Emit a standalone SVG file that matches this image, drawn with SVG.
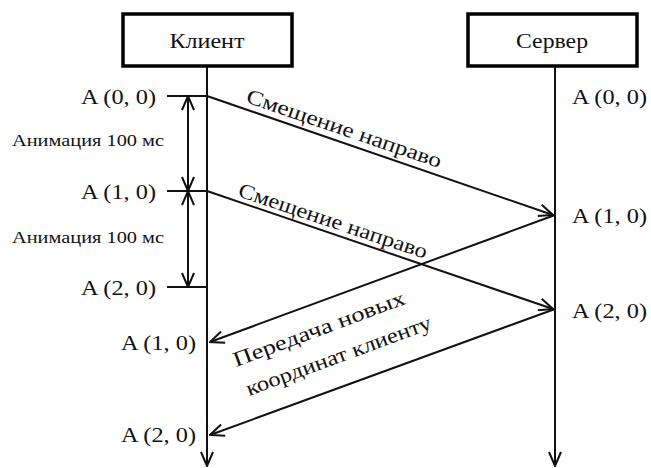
<svg xmlns="http://www.w3.org/2000/svg" width="651" height="468" viewBox="0 0 651 468">
  <style>
    .box { fill: #fff; stroke: #000; stroke-width: 3.5; }
    .line { fill: none; stroke: #111; stroke-width: 2; }
    .t { font-family: "Liberation Serif", "Times New Roman", serif; font-size: 21.5px; fill: #111; }
    .r { font-family: "Liberation Serif", "Times New Roman", serif; font-size: 21px; fill: #111; }
    .s { font-family: "Liberation Serif", "Times New Roman", serif; font-size: 17px; fill: #111; }
  </style>
  <defs>
    <marker id="arrow" viewBox="0 0 16 14" refX="15" refY="7" markerWidth="16" markerHeight="14" markerUnits="userSpaceOnUse" orient="auto-start-reverse">
      <path d="M1,1 L15,7 L1,13" fill="none" stroke="#111" stroke-width="2"/>
    </marker>
  </defs>

  <rect width="651" height="468" fill="#fff"/>

  <!-- lifelines and messages -->
  <g id="connectors">
    <line class="line" x1="207" y1="67" x2="207" y2="466" marker-end="url(#arrow)"/>
    <line class="line" x1="555" y1="67" x2="555" y2="466" marker-end="url(#arrow)"/>

    <!-- state ticks on the client side -->
    <line class="line" x1="167" y1="96" x2="207" y2="96"/>
    <line class="line" x1="167" y1="191" x2="207" y2="191"/>
    <line class="line" x1="167" y1="287" x2="207" y2="287"/>

    <!-- animation interval dimensions -->
    <line class="line" x1="188" y1="96" x2="188" y2="191" marker-start="url(#arrow)" marker-end="url(#arrow)"/>
    <line class="line" x1="188" y1="191" x2="188" y2="287" marker-start="url(#arrow)" marker-end="url(#arrow)"/>

    <!-- move-right requests -->
    <line class="line" x1="207" y1="96" x2="553" y2="215" marker-end="url(#arrow)"/>
    <line class="line" x1="207" y1="191" x2="553" y2="309" marker-end="url(#arrow)"/>

    <!-- coordinate replies -->
    <line class="line" x1="555" y1="215" x2="210" y2="342" marker-end="url(#arrow)"/>
    <line class="line" x1="555" y1="309" x2="210" y2="435" marker-end="url(#arrow)"/>
  </g>

  <g id="client">
    <rect class="box" x="123" y="14" width="169" height="52"/>
    <text class="t" x="207" y="48" text-anchor="middle" textLength="75" lengthAdjust="spacingAndGlyphs">Клиент</text>
  </g>

  <g id="server">
    <rect class="box" x="468" y="14" width="169" height="52"/>
    <text class="t" x="552" y="48" text-anchor="middle" textLength="72" lengthAdjust="spacingAndGlyphs">Сервер</text>
  </g>

  <g id="client-states">
    <text class="t" x="81" y="104" textLength="75" lengthAdjust="spacingAndGlyphs">A (0, 0)</text>
    <text class="t" x="81" y="199" textLength="75" lengthAdjust="spacingAndGlyphs">A (1, 0)</text>
    <text class="t" x="81" y="295" textLength="75" lengthAdjust="spacingAndGlyphs">A (2, 0)</text>
    <text class="t" x="121" y="350" textLength="75" lengthAdjust="spacingAndGlyphs">A (1, 0)</text>
    <text class="t" x="121" y="442" textLength="75" lengthAdjust="spacingAndGlyphs">A (2, 0)</text>
    <text class="s" x="12" y="146" textLength="152" lengthAdjust="spacingAndGlyphs">Анимация 100 мс</text>
    <text class="s" x="12" y="243" textLength="152" lengthAdjust="spacingAndGlyphs">Анимация 100 мс</text>
  </g>

  <g id="server-states">
    <text class="t" x="572" y="104" textLength="75" lengthAdjust="spacingAndGlyphs">A (0, 0)</text>
    <text class="t" x="572" y="223" textLength="75" lengthAdjust="spacingAndGlyphs">A (1, 0)</text>
    <text class="t" x="572" y="318" textLength="75" lengthAdjust="spacingAndGlyphs">A (2, 0)</text>
  </g>

  <g id="message-labels">
    <text class="r" transform="translate(245,102) rotate(18.8)" textLength="205" lengthAdjust="spacingAndGlyphs">Смещение направо</text>
    <text class="r" transform="translate(237,196) rotate(18.5)" textLength="198" lengthAdjust="spacingAndGlyphs">Смещение направо</text>
    <text class="r" transform="translate(236,367) rotate(-20.4)" textLength="182" lengthAdjust="spacingAndGlyphs">Передача новых</text>
    <text class="r" transform="translate(249,396) rotate(-20.2)" textLength="196" lengthAdjust="spacingAndGlyphs">координат клиенту</text>
  </g>
</svg>
